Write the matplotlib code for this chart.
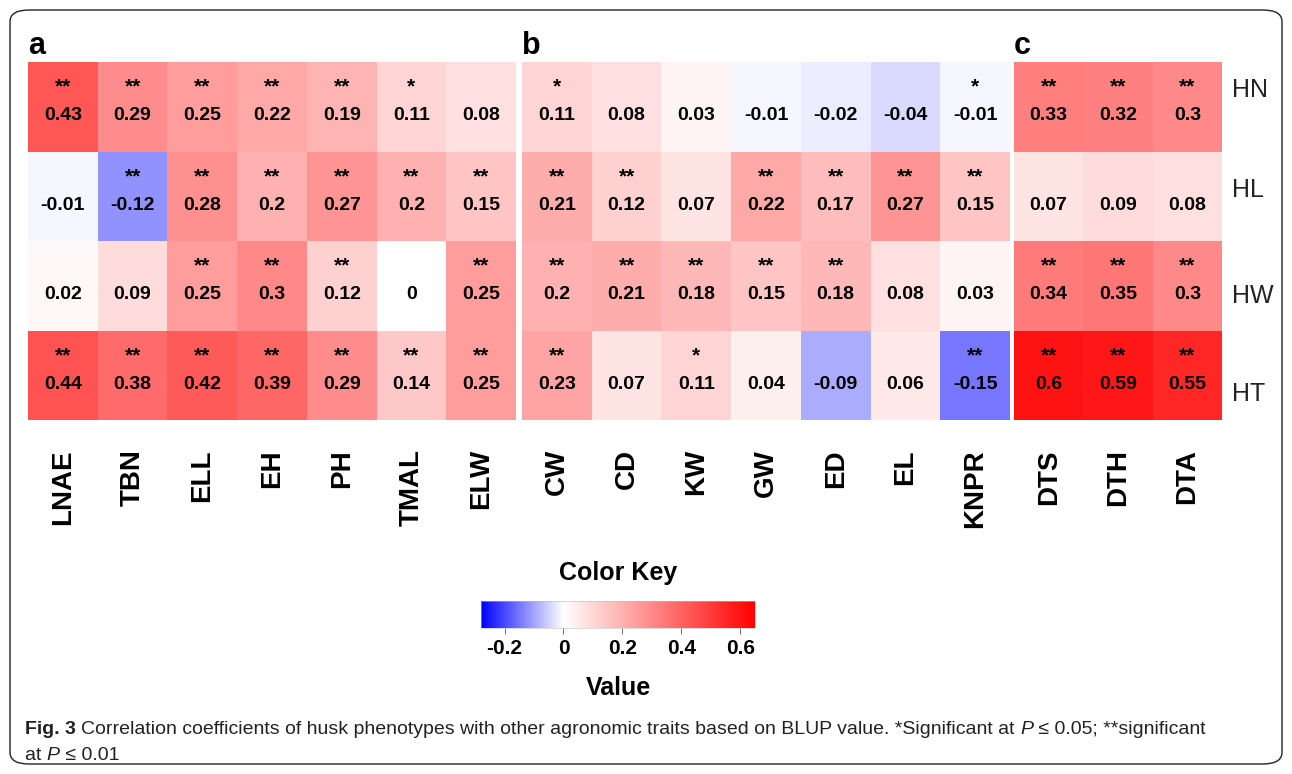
import numpy as np
import matplotlib
matplotlib.use("Agg")
import matplotlib.pyplot as plt
from matplotlib.colors import LinearSegmentedColormap, TwoSlopeNorm
from matplotlib.patches import FancyBboxPatch
import matplotlib.cm as cm

rows = ["HN", "HL", "HW", "HT"]

# panel a
cols_a = ["LNAE", "TBN", "ELL", "EH", "PH", "TMAL", "ELW"]
vals_a = [
    [0.43, 0.29, 0.25, 0.22, 0.19, 0.11, 0.08],
    [-0.01, -0.12, 0.28, 0.2, 0.27, 0.2, 0.15],
    [0.02, 0.09, 0.25, 0.3, 0.12, 0, 0.25],
    [0.44, 0.38, 0.42, 0.39, 0.29, 0.14, 0.25],
]
sig_a = [
    ["**", "**", "**", "**", "**", "*", ""],
    ["", "**", "**", "**", "**", "**", "**"],
    ["", "", "**", "**", "**", "", "**"],
    ["**", "**", "**", "**", "**", "**", "**"],
]

# panel b
cols_b = ["CW", "CD", "KW", "GW", "ED", "EL", "KNPR"]
vals_b = [
    [0.11, 0.08, 0.03, -0.01, -0.02, -0.04, -0.01],
    [0.21, 0.12, 0.07, 0.22, 0.17, 0.27, 0.15],
    [0.2, 0.21, 0.18, 0.15, 0.18, 0.08, 0.03],
    [0.23, 0.07, 0.11, 0.04, -0.09, 0.06, -0.15],
]
sig_b = [
    ["*", "", "", "", "", "", "*"],
    ["**", "**", "", "**", "**", "**", "**"],
    ["**", "**", "**", "**", "**", "", ""],
    ["**", "", "*", "", "", "", "**"],
]

# panel c
cols_c = ["DTS", "DTH", "DTA"]
vals_c = [
    [0.33, 0.32, 0.3],
    [0.07, 0.09, 0.08],
    [0.34, 0.35, 0.3],
    [0.6, 0.59, 0.55],
]
sig_c = [
    ["**", "**", "**"],
    ["", "", ""],
    ["**", "**", "**"],
    ["**", "**", "**"],
]

key_ticks = [-0.2, 0, 0.2, 0.4, 0.6]
key_labels = ["-0.2", "0", "0.2", "0.4", "0.6"]

W, H = 1292, 774
fig = plt.figure(figsize=(W / 100, H / 100), dpi=100)
plt.rcParams["font.family"] = ["Liberation Sans", "DejaVu Sans"]

cmap = LinearSegmentedColormap.from_list("bluered", ["#0000ff", "#ffffff", "#ff0000"])
norm = TwoSlopeNorm(vmin=-0.28, vcenter=0, vmax=0.65)


def px_axes(x0, y0, x1, y1):
    return fig.add_axes([x0 / W, 1 - y1 / H, (x1 - x0) / W, (y1 - y0) / H])


def fmt(v):
    s = ("%.2f" % v).rstrip("0").rstrip(".")
    return "0" if s in ("-0", "") else s


def panel(x0, x1, letter, cols, vals, sig):
    ax = px_axes(x0, 62, x1, 420)
    data = np.array(vals)
    ax.pcolormesh(data, cmap=cmap, norm=norm)
    ax.set_xlim(0, len(cols))
    ax.set_ylim(len(rows), 0)
    for i in range(len(rows)):
        for j in range(len(cols)):
            ax.text(j + 0.5, i + 0.6, fmt(data[i, j]), ha="center", va="center",
                    fontsize=14, fontweight="bold")
            if sig[i][j]:
                ax.text(j + 0.5, i + 0.28, sig[i][j], ha="center", va="center",
                        fontsize=15, fontweight="bold")
    ax.set_xticks(np.arange(len(cols)) + 0.5)
    ax.set_xticklabels(cols, rotation=90, fontsize=20, fontweight="bold")
    ax.tick_params(axis="x", length=0, pad=21)
    ax.set_yticks([])
    for s in ax.spines.values():
        s.set_visible(False)
    fig.text(x0 / W, 1 - 46 / H, letter, fontsize=22, fontweight="bold",
             ha="left", va="center")
    return ax


panel(28, 516, "a", cols_a, vals_a, sig_a)
panel(522, 1010, "b", cols_b, vals_b, sig_b)
panel(1014, 1222, "c", cols_c, vals_c, sig_c)

for name, y in zip(rows, [90, 190, 296, 394]):
    fig.text(1232 / W, 1 - y / H, name, fontsize=18, color="#222222",
             ha="left", va="center")

# colour key
cax = px_axes(481, 601, 755, 628)
cb = fig.colorbar(cm.ScalarMappable(norm=norm, cmap=cmap), cax=cax,
                  orientation="horizontal")
cb.ax.set_xscale("linear")
cb.set_ticks(key_ticks)
cb.set_ticklabels(key_labels)
cb.outline.set_linewidth(0.4)
cb.outline.set_edgecolor("#bbbbbb")
cax.tick_params(axis="x", length=4, width=0.6, color="#555555", pad=4)
for t in cax.get_xticklabels():
    t.set_fontsize(15)
    t.set_fontweight("bold")
fig.text(618 / W, 1 - 573 / H, "Color Key", fontsize=18, fontweight="bold",
         ha="center", va="center")
fig.text(618 / W, 1 - 688 / H, "Value", fontsize=18, fontweight="bold",
         ha="center", va="center")

# rounded frame
frame = FancyBboxPatch((10 / W, 10 / H), (W - 20) / W, (H - 20) / H,
                       boxstyle="round,pad=0,rounding_size=0.015",
                       transform=fig.transFigure, fill=False,
                       edgecolor="#222222", linewidth=1.0)
fig.patches.append(frame)

# caption, written as runs of differently styled text
renderer = fig.canvas.get_renderer()


def caption_line(x, y, parts):
    for txt, weight, style in parts:
        t = fig.text(x / W, 1 - y / H, txt, fontsize=14,
                     fontweight=weight, fontstyle=style, color="#222222",
                     ha="left", va="center")
        x += t.get_window_extent(renderer).width


caption_line(25, 730, [
    ("Fig. 3 ", "bold", "normal"),
    ("Correlation coefficients of husk phenotypes with other agronomic traits "
     "based on BLUP value. *Significant at ", "normal", "normal"),
    ("P", "normal", "italic"),
    (" \u2264 0.05; **significant", "normal", "normal"),
])
caption_line(25, 755, [
    ("at ", "normal", "normal"),
    ("P", "normal", "italic"),
    (" \u2264 0.01", "normal", "normal"),
])

fig.savefig("out.png", dpi=100)
